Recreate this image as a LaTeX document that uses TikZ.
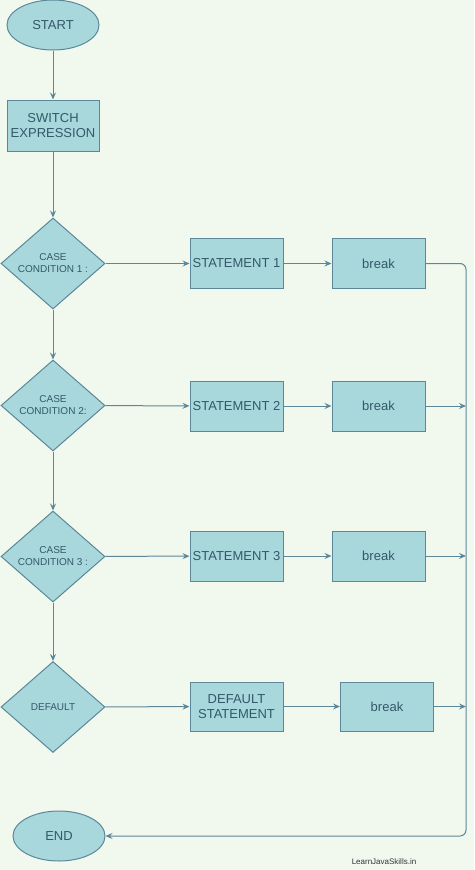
\documentclass[tikz,border=0pt]{standalone}
\usepackage{fontspec}
\setmainfont{Liberation Sans}
\usetikzlibrary{shapes.geometric,arrows.meta}
\definecolor{bgc}{HTML}{F1F9EF}
\definecolor{fillc}{HTML}{A8D8DB}
\definecolor{linec}{HTML}{5B8799}
\definecolor{textc}{HTML}{34586A}
\begin{document}
\begin{tikzpicture}[x=1pt,y=-1pt,
  base/.style={draw=linec,fill=fillc,line width=1pt,text=textc,align=center,inner sep=0pt},
  term/.style={base,ellipse,minimum width=92pt,minimum height=50pt,font=\fontsize{13}{15}\selectfont},
  procbox/.style={base,rectangle,minimum width=93pt,minimum height=50pt,font=\fontsize{13}{15}\selectfont},
  decis/.style={base,diamond,minimum width=104pt,minimum height=91pt,font=\fontsize{10}{12}\selectfont},
  conn/.style={draw=linec,line width=1pt,-{Stealth[length=7pt,width=6pt,inset=2.5pt]}},
  plain/.style={draw=linec,line width=1pt}]
\fill[bgc] (0,0) rectangle (474,870);
\useasboundingbox (0,0) rectangle (474,870);
\node[term] (start) at (53,25) {START};
\node[procbox,minimum width=92pt,minimum height=51pt] (sw) at (53,125.5) {SWITCH\\EXPRESSION};
\node[decis] (c1) at (53,263.5) {CASE\\CONDITION 1 :};
\node[decis] (c2) at (53,405.5) {CASE\\CONDITION 2:};
\node[decis] (c3) at (53,556.5) {CASE\\CONDITION 3 :};
\node[decis] (c4) at (53,707) {DEFAULT};
\node[procbox] (s1) at (236.5,263.5) {STATEMENT 1};
\node[procbox] (s2) at (236.5,406) {STATEMENT 2};
\node[procbox] (s3) at (236.5,556) {STATEMENT 3};
\node[procbox,minimum height=49pt] (s4) at (236.5,706.5) {DEFAULT\\STATEMENT};
\node[procbox] (b1) at (378.5,263.5) {break};
\node[procbox] (b2) at (378.5,406) {break};
\node[procbox] (b3) at (378.5,556) {break};
\node[procbox,minimum height=49pt] (b4) at (387,706.5) {break};
\node[term] (end) at (59,836) {END};
\coordinate (r2) at (466,406);
\coordinate (r3) at (466,556);
\coordinate (r4) at (466,706.5);
\node[text=black!80,font=\fontsize{8}{9}\selectfont] (wm) at (384,862) {LearnJavaSkills.in};
\draw[conn] (start) -- (sw);
\draw[conn] (sw) -- (c1);
\draw[conn] (c1) -- (c2);
\draw[conn] (c2) -- (c3);
\draw[conn] (c3) -- (c4);
\draw[conn] (c1) -- (s1);
\draw[conn] (c2) -- (s2);
\draw[conn] (c3) -- (s3);
\draw[conn] (c4) -- (s4);
\draw[conn] (s1) -- (b1);
\draw[conn] (s2) -- (b2);
\draw[conn] (s3) -- (b3);
\draw[conn] (s4) -- (b4);
\draw[conn] (b2) -- (r2);
\draw[conn] (b3) -- (r3);
\draw[conn] (b4) -- (r4);
\draw[conn,rounded corners=6pt] (b1.east) -- (466,263.5) -- (466,836) -- (end.east);
\end{tikzpicture}
\end{document}
